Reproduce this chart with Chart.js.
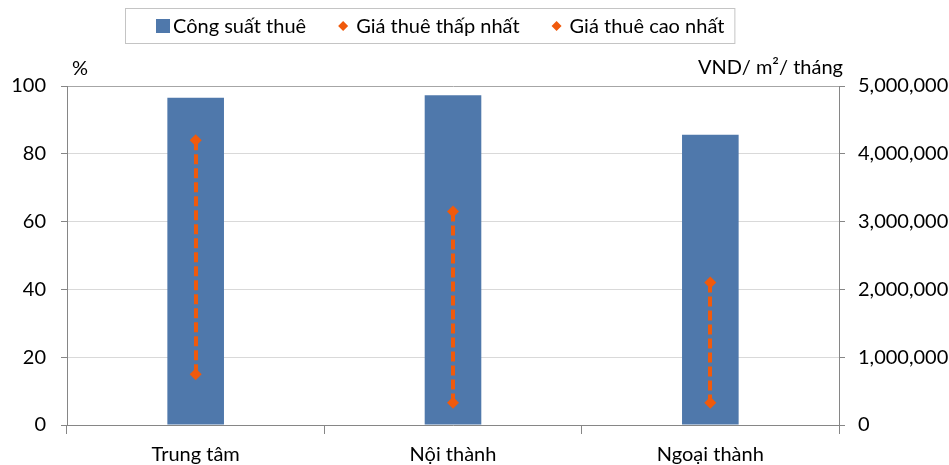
<!DOCTYPE html>
<html lang="vi">
<head>
<meta charset="utf-8">
<title>Công suất thuê và giá thuê</title>
<script src="https://cdn.jsdelivr.net/npm/chart.js@4/dist/chart.umd.min.js"></script>
<style>
  html, body { margin: 0; padding: 0; background: #fff; }
  #wrap { position: relative; width: 949px; height: 465px; }
</style>
</head>
<body>
<div id="wrap"><canvas id="chart" width="949" height="465"></canvas></div>
<script>
// Khu vực
const categories = ['Trung tâm', 'Nội thành', 'Ngoại thành'];
// Công suất thuê (%)
const occupancy = [96.5, 97.3, 85.6];
// Giá thuê (VND/ m²/ tháng)
const rentMin = [750000, 330000, 330000];
const rentMax = [4200000, 3150000, 2100000];
// Vạch chia trục
const leftTicks = [0, 20, 40, 60, 80, 100];
const rightTicks = [0, 1000000, 2000000, 3000000, 4000000, 5000000];

const FONT = 'Lato, "Open Sans", sans-serif';
const FS = 20;
const BLUE = '#4f78ab';
const ORANGE = '#f05a0c';
const AXIS = '#868686';
const GRID = '#d9d9d9';

// Đường đứt nét nối giá thấp nhất và cao nhất của mỗi khu vực
const hiLowLines = {
  id: 'hiLowLines',
  afterDatasetDraw(chart, args) {
    if (args.index !== 0) return;
    const lo = chart.getDatasetMeta(1).data;
    const hi = chart.getDatasetMeta(2).data;
    const ctx = chart.ctx;
    ctx.save();
    ctx.strokeStyle = ORANGE;
    ctx.lineWidth = 4;
    ctx.setLineDash([10, 4]);
    for (let i = 0; i < lo.length; i++) {
      ctx.beginPath();
      ctx.moveTo(Math.round(hi[i].x), hi[i].y);
      ctx.lineTo(Math.round(lo[i].x), lo[i].y);
      ctx.stroke();
    }
    ctx.restore();
  }
};

// Tiêu đề hai trục tung
const axisTitles = {
  id: 'axisTitles',
  afterDraw(chart) {
    const ctx = chart.ctx;
    const a = chart.chartArea;
    ctx.save();
    ctx.fillStyle = '#000';
    ctx.font = FS + 'px ' + FONT;
    ctx.textBaseline = 'middle';
    ctx.textAlign = 'left';
    ctx.fillText('%', a.left + 5, 69);
    ctx.textAlign = 'right';
    ctx.fillText('VND/ m²/ tháng', a.right + 4, 68);
    ctx.restore();
  }
};

// Chú thích có khung
const boxLegend = {
  id: 'boxLegend',
  afterDraw(chart) {
    const ctx = chart.ctx;
    const ds = chart.data.datasets;
    ctx.save();
    ctx.font = FS + 'px ' + FONT;
    ctx.textBaseline = 'middle';
    ctx.textAlign = 'left';
    const cy = 26;
    let x = 156;
    const boxLeft = 125;
    ds.forEach((d, i) => {
      if (i > 0) x += 32;
      if (d.type === 'bar') {
        ctx.fillStyle = d.backgroundColor;
        ctx.fillRect(x, cy - 7, 14, 14);
        x += 17;
      } else {
        ctx.fillStyle = d.backgroundColor;
        ctx.beginPath();
        ctx.moveTo(x + 5, cy - 5);
        ctx.lineTo(x + 10, cy);
        ctx.lineTo(x + 5, cy + 5);
        ctx.lineTo(x, cy);
        ctx.closePath();
        ctx.fill();
        x += 18;
      }
      ctx.fillStyle = '#000';
      ctx.fillText(d.label, x, cy + 1);
      x += ctx.measureText(d.label).width;
    });
    ctx.strokeStyle = '#c4c4c4';
    ctx.lineWidth = 1;
    ctx.strokeRect(boxLeft + 0.5, 8.5, (x + 10) - boxLeft, 35);
    ctx.restore();
  }
};

new Chart(document.getElementById('chart'), {
  data: {
    labels: categories,
    datasets: [
      {
        type: 'bar',
        label: 'Công suất thuê',
        data: occupancy,
        yAxisID: 'y',
        backgroundColor: BLUE,
        categoryPercentage: 1,
        barPercentage: 0.22,
        order: 3
      },
      {
        type: 'line',
        label: 'Giá thuê thấp nhất',
        data: rentMin,
        yAxisID: 'y1',
        showLine: false,
        pointStyle: 'rectRot',
        pointRadius: 6,
        backgroundColor: ORANGE,
        borderColor: ORANGE,
        borderWidth: 0,
        order: 2
      },
      {
        type: 'line',
        label: 'Giá thuê cao nhất',
        data: rentMax,
        yAxisID: 'y1',
        showLine: false,
        pointStyle: 'rectRot',
        pointRadius: 6,
        backgroundColor: ORANGE,
        borderColor: ORANGE,
        borderWidth: 0,
        order: 1
      }
    ]
  },
  options: {
    responsive: false,
    animation: false,
    events: [],
    layout: { padding: { top: 86, left: 0, right: 0, bottom: 0 } },
    plugins: {
      legend: { display: false },
      tooltip: { enabled: false }
    },
    scales: {
      x: {
        offset: true,
        grid: {
          offset: true,
          drawOnChartArea: false,
          tickLength: 9,
          color: AXIS
        },
        border: { color: AXIS },
        ticks: {
          color: '#000',
          font: { family: FONT, size: FS },
          padding: 9,
          maxRotation: 0
        },
        afterFit(s) { s.height = 40; }
      },
      y: {
        position: 'left',
        min: 0,
        max: 100,
        afterBuildTicks(s) { s.ticks = leftTicks.map(v => ({ value: v })); },
        grid: {
          color: ctx => (ctx.tick && ctx.tick.value === 100 ? '#a6a6a6' : GRID),
          tickColor: AXIS,
          tickLength: 6
        },
        border: { color: AXIS },
        ticks: {
          color: '#000',
          font: { family: FONT, size: FS },
          padding: 15
        },
        afterFit(s) { s.width = 67; }
      },
      y1: {
        position: 'right',
        min: 0,
        max: 5000000,
        afterBuildTicks(s) { s.ticks = rightTicks.map(v => ({ value: v })); },
        grid: {
          drawOnChartArea: false,
          color: AXIS,
          tickLength: 6
        },
        border: { color: AXIS },
        ticks: {
          color: '#000',
          font: { family: FONT, size: FS },
          padding: 13,
          callback: v => Number(v).toLocaleString('en-US')
        },
        afterFit(s) { s.width = 110; }
      }
    }
  },
  plugins: [hiLowLines, axisTitles, boxLegend]
});
</script>
</body>
</html>
